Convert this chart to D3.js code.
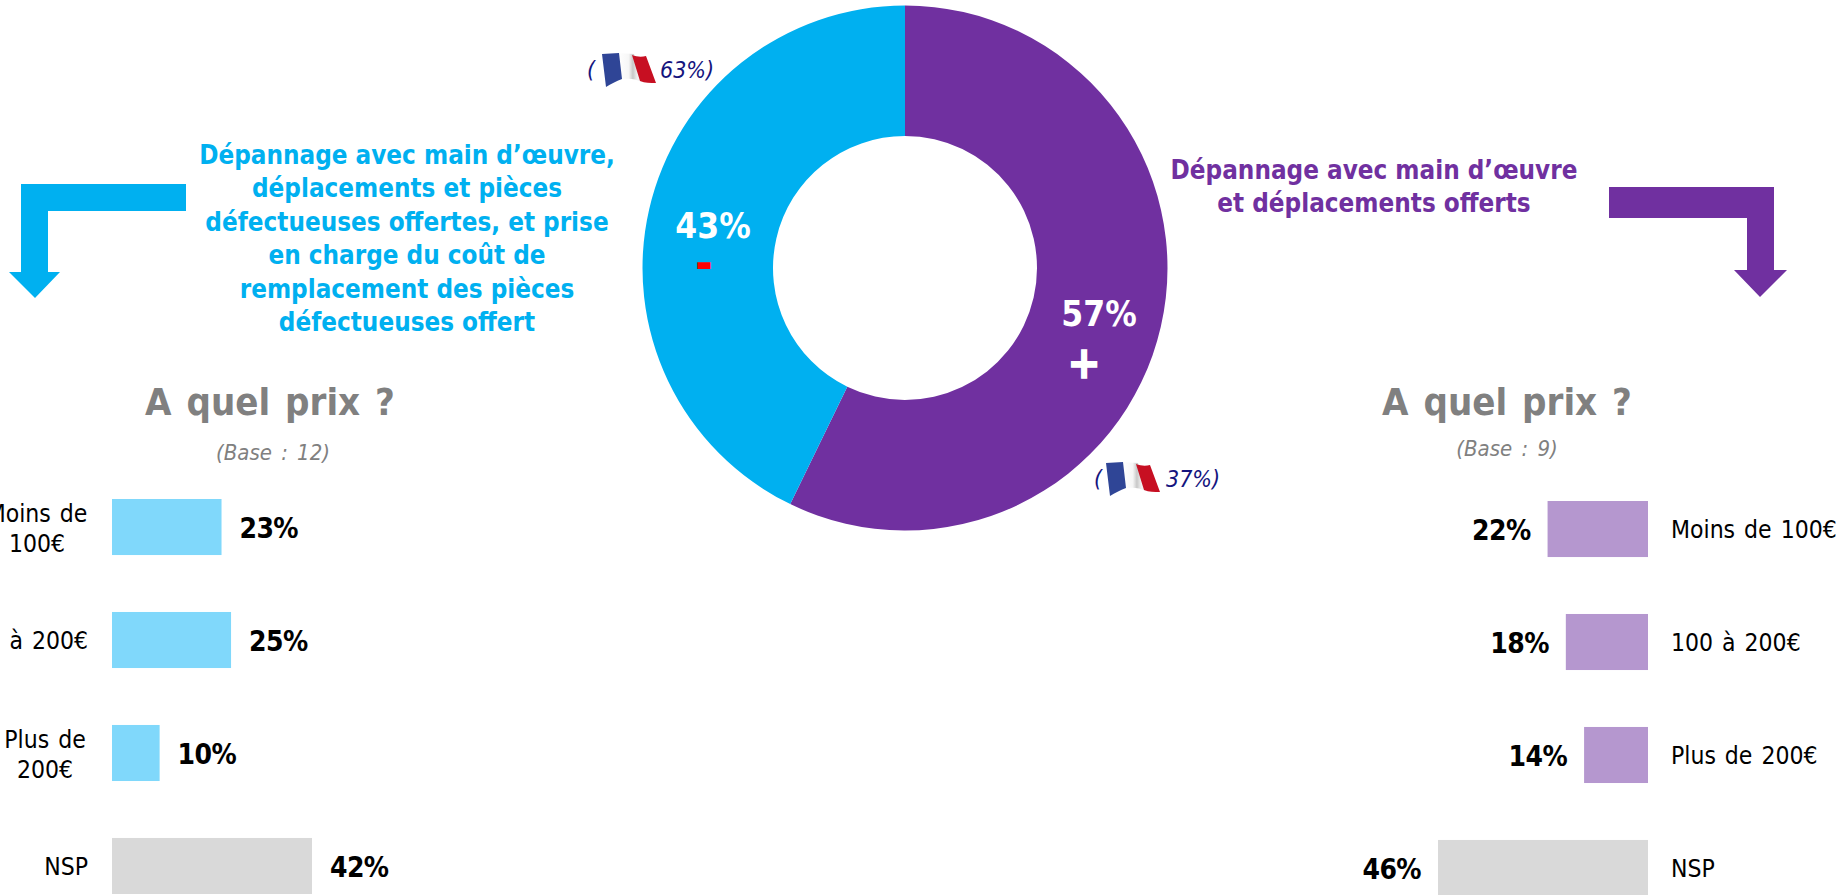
<!DOCTYPE html>
<html>
<head>
<meta charset="utf-8">
<script src="https://cdn.jsdelivr.net/npm/d3@7"></script>
<style>
  html, body { margin: 0; padding: 0; background: #fff; overflow: hidden; }
  svg { display: block; }
  text { font-family: "DejaVu Sans", sans-serif; font-stretch: condensed; }
</style>
</head>
<body>
<svg id="chart" width="1845" height="895"></svg>
<script>
// donut
var donutLabels = ["57%", "43%"];
var donutValues = [57.2, 42.8];
var donutColors = ["#7030A0", "#00B0F0"];

// left bars
var leftCategories = [["Moins de", "100€"], ["100 à 200€"], ["Plus de", "200€"], ["NSP"]];
var leftValues = [23, 25, 10, 42];

// right bars
var rightCategories = ["Moins de 100€", "100 à 200€", "Plus de 200€", "NSP"];
var rightValues = [22, 18, 14, 46];

var leftHeading = [
  "Dépannage avec main d’œuvre,",
  "déplacements et pièces",
  "défectueuses offertes, et prise",
  "en charge du coût de",
  "remplacement des pièces",
  "défectueuses offert"
];
var rightHeading = ["Dépannage avec main d’œuvre", "et déplacements offerts"];

var svg = d3.select("#chart");

var defs = svg.append("defs");
var flagWhite = defs.append("linearGradient").attr("id", "flagWhite");
[[0, "#ffffff"], [0.45, "#f6f6f6"], [0.62, "#c8c8c8"], [0.8, "#f0f0f0"], [1, "#f4f4f4"]]
  .forEach(function (s) { flagWhite.append("stop").attr("offset", s[0]).attr("stop-color", s[1]); });

// donut
var pie = d3.pie().sort(null)(donutValues);
var arc = d3.arc().innerRadius(132).outerRadius(262.5);
svg.append("g").attr("transform", "translate(905,268)")
  .selectAll("path").data(pie).enter().append("path")
  .attr("d", arc)
  .attr("fill", function (d, i) { return donutColors[i]; });

svg.append("text").attr("x", 1099).attr("y", 326).attr("text-anchor", "middle")
  .attr("font-size", 35).attr("font-weight", 700).attr("fill", "#fff").text(donutLabels[0]);
svg.append("text").attr("x", 713).attr("y", 238).attr("text-anchor", "middle")
  .attr("font-size", 35).attr("font-weight", 700).attr("fill", "#fff").text(donutLabels[1]);
svg.append("text").attr("x", 1084).attr("y", 378).attr("text-anchor", "middle")
  .attr("font-size", 44).attr("font-weight", 700).attr("fill", "#fff")
  .attr("stroke", "#fff").attr("stroke-width", 1.5).text("+");
svg.append("text").attr("x", 704).attr("y", 279).attr("text-anchor", "middle")
  .attr("font-size", 48).attr("font-weight", 700).attr("fill", "#ff0000").text("-");

function drawFlag(x, y) {
  var g = svg.append("g").attr("transform", "translate(" + x + "," + y + ")");
  g.append("path").attr("d", "M16,0 L32,1 L40,29 C34,26 28,25 20,26 Z").attr("fill", "url(#flagWhite)");
  g.append("path").attr("d", "M0,1 L17,0 L20,26 C14,28 9,31 4,34 Z").attr("fill", "#2f4596");
  g.append("path").attr("d", "M30,2 C35,4 40,4 44,3 L54,30 C48,30 43,30 38,28 Z").attr("fill", "#c70f22");
}

function drawCompare(parenX, flagX, valueX, baseline, value) {
  svg.append("text").attr("x", parenX).attr("y", baseline)
    .attr("font-size", 23).attr("font-style", "italic").attr("fill", "#14147e").text("(");
  drawFlag(flagX, baseline - 25);
  svg.append("text").attr("x", valueX).attr("y", baseline)
    .attr("font-size", 23).attr("font-style", "italic").attr("fill", "#14147e").text(value + ")");
}
drawCompare(587, 602, 660, 78, "63%");
drawCompare(1094, 1106, 1166, 487, "37%");

// headings
function drawHeading(lines, cx, y0, step, color, size) {
  svg.append("g").selectAll("text").data(lines).enter().append("text")
    .attr("x", cx)
    .attr("y", function (d, i) { return y0 + i * step; })
    .attr("text-anchor", "middle")
    .attr("font-size", size).attr("font-weight", 700).attr("fill", color)
    .text(function (d) { return d; });
}
drawHeading(leftHeading, 407, 164, 33.4, "#00B0F0", 25.8);
drawHeading(rightHeading, 1374, 179, 33, "#7030A0", 25.8);

// bent arrows
var arrow = d3.line();
var leftArrow = [[186, 184], [21, 184], [21, 272], [9, 272], [35, 298], [60, 272], [48, 272], [48, 211], [186, 211]];
var rightArrow = [[1609, 187], [1774, 187], [1774, 270], [1787, 270], [1760, 297], [1734, 270], [1747, 270], [1747, 218], [1609, 218]];
svg.append("path").attr("d", arrow(leftArrow) + "Z").attr("fill", "#00B0F0");
svg.append("path").attr("d", arrow(rightArrow) + "Z").attr("fill", "#7030A0");

// sub titles
function drawTitle(cx, y, base, baseX, baseY) {
  svg.append("text").attr("x", cx).attr("y", y).attr("text-anchor", "middle")
    .attr("font-size", 38).attr("font-weight", 700).attr("fill", "#808080").attr("word-spacing", 3).text("A quel prix ?");
  svg.append("text").attr("x", baseX).attr("y", baseY).attr("text-anchor", "middle")
    .attr("font-size", 22).attr("font-style", "italic").attr("fill", "#808080").attr("word-spacing", 3).text(base);
}
drawTitle(270, 415, "(Base : 12)", 273, 460);
drawTitle(1507, 415, "(Base : 9)", 1507, 456);

// left chart
var xLeft = d3.scaleLinear().domain([0, 42]).range([112, 312]);
var yLeft = d3.scaleBand().domain(d3.range(4)).range([499, 894]).paddingInner(0.504);

svg.append("g").selectAll("rect").data(leftValues).enter().append("rect")
  .attr("x", xLeft(0))
  .attr("y", function (d, i) { return yLeft(i); })
  .attr("width", function (d) { return xLeft(d) - xLeft(0); })
  .attr("height", yLeft.bandwidth())
  .attr("fill", function (d, i) { return i === 3 ? "#D9D9D9" : "#80D8FB"; });

svg.append("g").selectAll("text").data(leftValues).enter().append("text")
  .attr("x", function (d) { return xLeft(d) + 18; })
  .attr("y", function (d, i) { return yLeft(i) + 39; })
  .attr("font-size", 28).attr("font-weight", 700).attr("letter-spacing", -0.6).attr("fill", "#000")
  .text(function (d) { return d + "%"; });

leftCategories.forEach(function (lines, i) {
  var anchorEnd = lines.length === 1;
  var cx = i === 0 ? 37 : 45;
  var txt = svg.append("text")
    .attr("font-size", 24.5).attr("fill", "#000").attr("word-spacing", 2)
    .attr("text-anchor", anchorEnd ? "end" : "middle");
  lines.forEach(function (line, j) {
    txt.append("tspan")
      .attr("x", anchorEnd ? 88 : cx)
      .attr("y", yLeft(i) + (anchorEnd ? 37 : 23 + j * 30))
      .text(line);
  });
});

// right chart
var xRight = d3.scaleLinear().domain([0, 46]).range([1648, 1438]);
var yRight = d3.scaleBand().domain(d3.range(4)).range([501, 896]).paddingInner(0.504);

svg.append("g").selectAll("rect").data(rightValues).enter().append("rect")
  .attr("x", function (d) { return xRight(d); })
  .attr("y", function (d, i) { return yRight(i); })
  .attr("width", function (d) { return xRight(0) - xRight(d); })
  .attr("height", yRight.bandwidth())
  .attr("fill", function (d, i) { return i === 3 ? "#D9D9D9" : "#B597CF"; });

svg.append("g").selectAll("text").data(rightValues).enter().append("text")
  .attr("x", function (d) { return xRight(d) - 17; })
  .attr("y", function (d, i) { return yRight(i) + 39; })
  .attr("text-anchor", "end")
  .attr("font-size", 28).attr("font-weight", 700).attr("letter-spacing", -0.6).attr("fill", "#000")
  .text(function (d) { return d + "%"; });

svg.append("g").selectAll("text").data(rightCategories).enter().append("text")
  .attr("x", 1671)
  .attr("y", function (d, i) { return yRight(i) + 37; })
  .attr("font-size", 24.5).attr("fill", "#000").attr("word-spacing", 2)
  .text(function (d) { return d; });
</script>
</body>
</html>
